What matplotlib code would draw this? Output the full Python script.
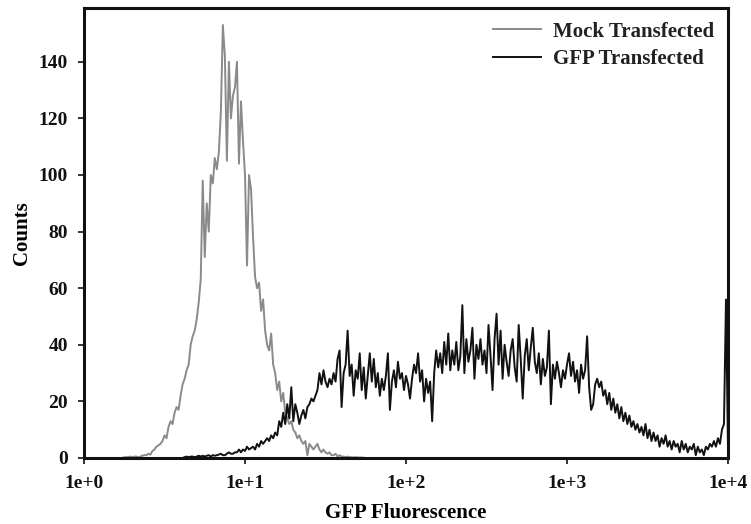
import numpy as np
import matplotlib
matplotlib.use("Agg")
import matplotlib.pyplot as plt

# histogram channel grid: 80 channels per decade, 1e0 .. 1e4
channels_per_decade = 80
n_channels = 321

mock_start = 20
mock_counts = [
    0.3, 0.3, 0.3, 0.5, 0.3, 0.5, 0.5, 0.3, 0.5, 0.8,
    1, 1, 1.5, 1.2, 2.5, 3, 4, 4.5, 5, 6,
    8, 7, 11, 13, 12, 16, 18, 17, 22, 26,
    28, 31, 33, 40, 43, 45, 49, 55, 63, 98,
    71, 90, 80, 100, 97, 106, 102, 108, 122, 153,
    142, 105, 140, 120, 128, 131, 140, 104, 126, 112,
    100, 68, 100, 95, 78, 64, 60, 62, 52, 56,
    45, 40, 38, 44, 33, 30, 24, 27, 20, 23,
    16, 14, 12, 13, 10, 9, 7, 8, 6, 5,
    6, 1, 5, 4, 3, 4, 5, 3, 2, 3,
    2, 1.5, 2, 1, 1, 1.5, 0.5, 1, 0.5, 0.5,
    0.3, 0.5, 0.3, 0.3, 0.2, 0.3, 0.2, 0.2, 0.2, 0.1,
]

gfp_start = 50
gfp_counts = [
    0.3, 0.5, 0.3, 0.5, 0.5, 0.3, 0.5, 0.8, 0.5, 0.8,
    0.5, 0.8, 1, 0.5, 1, 0.8, 1, 1.2, 1.5, 1,
    1, 1.5, 2, 1.5, 1.5, 2, 2, 3, 2, 3,
    2.5, 4, 3, 3.5, 4, 3, 5, 4, 6, 5,
    6, 7, 6, 8, 7, 9, 8, 13, 11, 16,
    12, 19, 14, 25, 13, 19, 16, 12, 15, 17,
    14, 18, 19, 21, 20, 22, 24, 30, 26, 31,
    27, 25, 28, 26, 30, 27, 35, 38, 18, 30,
    33, 45, 29, 33, 22, 31, 28, 37, 24, 32,
    21, 29, 37, 27, 35, 25, 30, 22, 28, 24,
    29, 37, 17, 27, 31, 25, 34, 28, 30, 24,
    29, 26, 21, 28, 33, 30, 37, 27, 31, 20,
    28, 23, 27, 13, 30, 38, 32, 37, 30, 41,
    33, 44, 31, 38, 33, 41, 31, 36, 54, 30,
    42, 34, 38, 46, 28, 40, 35, 42, 33, 38,
    30, 47, 36, 24, 42, 51, 33, 45, 28, 40,
    34, 29, 38, 42, 32, 27, 47, 35, 21, 36,
    42, 31, 39, 46, 34, 30, 37, 26, 35, 29,
    32, 45, 19, 33, 28, 34, 30, 25, 31, 28,
    33, 37, 29, 34, 27, 31, 23, 33, 28, 31,
    43, 25, 17, 19, 26, 28, 25, 27, 22, 24,
    19, 23, 17, 21, 16, 19, 14, 18, 13, 16,
    12, 15, 11, 13, 10, 12, 9, 11, 8, 12,
    7, 10, 6, 9, 6, 8, 4, 7, 5, 8,
    4, 6, 3, 6, 4, 5, 2, 6, 3, 5,
    2, 4, 3, 5, 1, 4, 2, 3, 1, 4,
    3, 5, 4, 6, 4, 7, 5, 10, 12, 56,
    3,
]

series_labels = ["Mock Transfected", "GFP Transfected"]
xtick_values = [1, 10, 100, 1000, 10000]
xtick_labels = ["1e+0", "1e+1", "1e+2", "1e+3", "1e+4"]
ytick_values = [0, 20, 40, 60, 80, 100, 120, 140]

# build full-length count arrays on the channel grid
fluor = 10 ** (np.arange(n_channels) / channels_per_decade)
mock = np.zeros(n_channels)
mock[mock_start:mock_start + len(mock_counts)] = mock_counts
gfp = np.zeros(n_channels)
gfp[gfp_start:gfp_start + len(gfp_counts)] = gfp_counts

plt.rcParams['font.family'] = ['Liberation Serif', 'DejaVu Serif']
plt.rcParams['font.weight'] = 'bold'

fig = plt.figure(figsize=(7.51, 5.24), dpi=100)
ax = fig.add_axes([84 / 751, 1 - 458 / 524, (728 - 84) / 751, (458 - 8) / 524])

ax.plot(fluor, mock, color='#8a8a8a', lw=1.4, label=series_labels[0])
ax.plot(fluor, gfp, color='#111111', lw=1.4, label=series_labels[1])

ax.set_xscale('log')
ax.set_xlim(1, 10000)
ax.set_ylim(0, 159)
ax.set_xticks(xtick_values)
ax.set_xticklabels(xtick_labels)
ax.xaxis.set_minor_locator(matplotlib.ticker.NullLocator())
ax.set_yticks(ytick_values)

for s in ax.spines.values():
    s.set_linewidth(2.2)
    s.set_color('#111111')

ax.tick_params(axis='both', direction='out', length=4, width=1.2,
               labelsize=14, colors='#111111')
ax.tick_params(axis='y', pad=7.5)
ax.tick_params(axis='x', pad=8.5)
ax.tick_params(top=False, right=False)

ax.set_xlabel("GFP Fluorescence", fontsize=15, fontweight='bold', labelpad=8)
ax.set_ylabel("Counts", fontsize=15, fontweight='bold', labelpad=5)

leg = ax.legend(loc='upper right', frameon=False, fontsize=15,
                handlelength=2.3, handletextpad=0.6, labelspacing=0.35,
                borderaxespad=0.45, borderpad=0.2)
for t in leg.get_texts():
    t.set_fontweight('bold')
    t.set_color('#222222')

fig.savefig("out.png", dpi=100)
